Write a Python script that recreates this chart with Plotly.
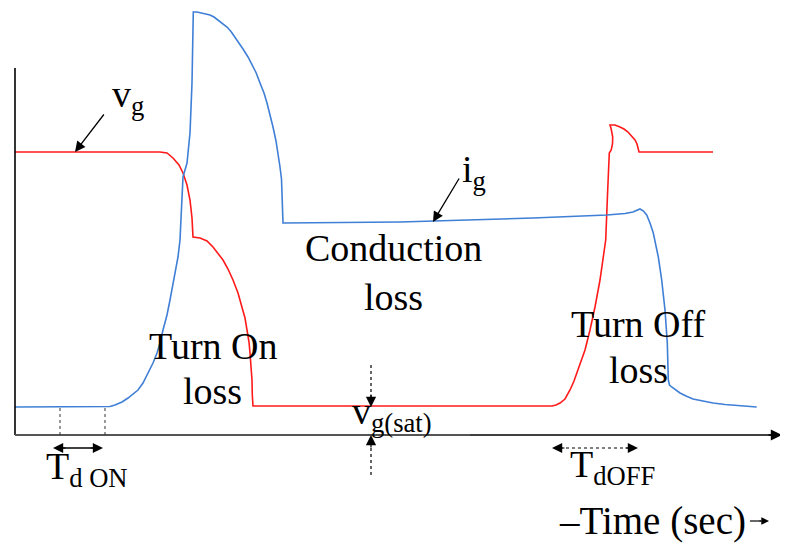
import plotly.graph_objects as go

# time (t) and amplitude (v) samples
vg_t = [0, 145, 152, 158, 164, 168, 172, 175, 177, 178,
        185, 192, 198, 203, 208, 213, 218, 223, 227, 230, 232, 234, 235, 236, 237, 237.3, 238,
        535, 537, 541, 545, 550, 555, 559, 563, 567, 570, 575, 580, 585, 588, 590.7, 592.7, 594.3,
        596.2, 597.5, 597.7, 597.2, 596.2, 595,
        600, 605, 609, 613, 617, 620, 622, 623, 623.7, 624, 698]
vg_v = [283, 283, 282, 277, 270, 262, 250, 235, 217, 198,
        197, 194, 188, 182, 175, 166, 155, 142, 128, 117, 105, 93, 82, 68, 55, 40, 29,
        29, 29, 30, 32, 36, 45, 54, 65, 75, 85, 105, 128, 155, 175, 195, 245, 282,
        285, 291, 298, 302, 306, 310,
        310, 308, 306, 303, 299, 295, 291, 288, 285, 283, 283]

ig_t = [0, 90, 95, 100, 107, 113, 118, 123, 128, 133, 138, 142, 145, 148, 152, 155, 158, 160,
        163, 165, 168, 172, 175, 177, 178, 178.3,
        182, 186, 190, 195, 199, 203, 207, 212, 216, 220, 224, 228, 233, 237, 241, 245, 249, 252,
        255, 258, 261, 263, 265, 266.5, 267.5, 268,
        385, 418, 518, 592, 610, 618, 622, 625, 628.5, 631.7, 635, 638.3, 643.3, 646.7, 650,
        652.3, 653.3, 654.5, 656.7, 660, 665, 671, 678, 688, 698, 710, 725, 741.7]
ig_v = [28, 28, 28.5, 30, 33, 37, 41, 45, 52, 62, 72, 82, 92, 105, 120, 135, 150, 162,
        178, 195, 258, 272, 302, 352, 395, 423,
        423, 422, 421.5, 420, 418, 415, 412, 408, 403.5, 398, 392.5, 386, 378, 371, 362.5, 352,
        342, 332, 320.5, 308, 294, 282, 268, 256, 235, 212,
        213, 214, 217, 220, 221.5, 223, 224.5, 226, 224, 220, 212, 202, 178, 155, 125,
        92, 55, 50, 48, 45.5, 42, 39, 36, 34, 32, 30.5, 29, 28]

RED = "#ff1a1a"
BLUE = "#3f7fd6"
FONT = "Liberation Serif"
FS = 38

fig = go.Figure()
fig.add_trace(go.Scatter(x=vg_t, y=vg_v, mode="lines",
                         line=dict(color=RED, width=1.6),
                         hoverinfo="skip", showlegend=False))
fig.add_trace(go.Scatter(x=ig_t, y=ig_v, mode="lines",
                         line=dict(color=BLUE, width=1.6),
                         hoverinfo="skip", showlegend=False))

shapes = []
# axes
shapes.append(dict(type="line", x0=0, y0=0, x1=0, y1=367, line=dict(color="black", width=1.6)))
shapes.append(dict(type="line", x0=0, y0=0, x1=455, y1=0, line=dict(color="#555", width=2)))
shapes.append(dict(type="line", x0=455, y0=0, x1=760, y1=0, line=dict(color="black", width=1.3)))
# Td ON guides
for tx in (45, 90):
    shapes.append(dict(type="line", x0=tx, y0=0, x1=tx, y1=28,
                       line=dict(color="#333", width=1, dash="dot")))
# vg(sat) dotted arrows
shapes.append(dict(type="line", x0=356, y0=70, x1=356, y1=35, line=dict(color="black", width=1.2, dash="dot")))
shapes.append(dict(type="line", x0=356, y0=-40, x1=356, y1=-8, line=dict(color="black", width=1.2, dash="dot")))
# TdOFF dotted
shapes.append(dict(type="line", x0=545, y0=-13, x1=615, y1=-13, line=dict(color="black", width=1.2, dash="dot")))
# Td ON solid
shapes.append(dict(type="line", x0=45, y0=-13, x1=80, y1=-13, line=dict(color="black", width=1.5)))
# Time arrow shaft
shapes.append(dict(type="line", x0=735, y0=-86, x1=746, y1=-86, line=dict(color="black", width=1.2)))

ann = []
def arrow(hx, hy, tx, ty, w=1.4, size=1.6):
    ann.append(dict(x=hx, y=hy, ax=tx, ay=ty, xref="x", yref="y", axref="x", ayref="y",
                    text="", showarrow=True, arrowhead=2, arrowsize=size, arrowwidth=w,
                    arrowcolor="black"))

def label(x, y, txt, size=FS, xanchor="center"):
    ann.append(dict(x=x, y=y, xref="x", yref="y", text=txt, showarrow=False,
                    font=dict(family=FONT, size=size, color="black"), xanchor=xanchor, yanchor="middle"))

# x-axis arrowhead
arrow(767, 0, 752, 0, w=1.4, size=1.6)
# vg pointer
arrow(60, 283, 90, 322, w=1.3, size=1.6)
# ig pointer
arrow(418, 213, 445, 258, w=1.3, size=1.6)
# vg(sat) heads
arrow(356, 28, 356, 42, w=1.2, size=1.7)
arrow(356, 0, 356, -14, w=1.2, size=1.7)
# Td ON heads
arrow(38, -13, 52, -13, w=1.2, size=1.7)
arrow(88, -13, 74, -13, w=1.2, size=1.7)
# TdOFF heads
arrow(537, -13, 551, -13, w=1.2, size=1.7)
arrow(623, -13, 609, -13, w=1.2, size=1.7)
# Time arrow head
arrow(754, -86, 743, -86, w=1.1, size=1.4)

label(113, 338, "v<sub>g</sub>")
label(459, 263, "i<sub>g</sub>")
label(378, 187, "Conduction")
label(378, 138, "loss")
label(198, 89, "Turn On")
label(197, 44, "loss")
label(623, 111, "Turn Off")
label(623, 65, "loss")
label(377, 21, "v<sub>g(sat)</sub>")
label(72, -34, "T<sub>d ON</sub>")
label(597, -32, "T<sub>dOFF</sub>")
label(542, -86, "\u2013Time (sec)", size=39, xanchor="left")

# page body has an 8px margin: figure is 8px smaller and ranges shifted so that
# the drawing lands on the same pixels as the reference
fig.update_layout(
    width=780, height=536, autosize=False,
    margin=dict(l=0, r=0, t=0, b=0),
    paper_bgcolor="white", plot_bgcolor="white",
    xaxis=dict(range=[-7, 773], visible=False, fixedrange=True),
    yaxis=dict(range=[-109, 427], visible=False, fixedrange=True),
    shapes=shapes, annotations=ann, showlegend=False,
)

fig.write_html("out.html", config={"displayModeBar": False})
